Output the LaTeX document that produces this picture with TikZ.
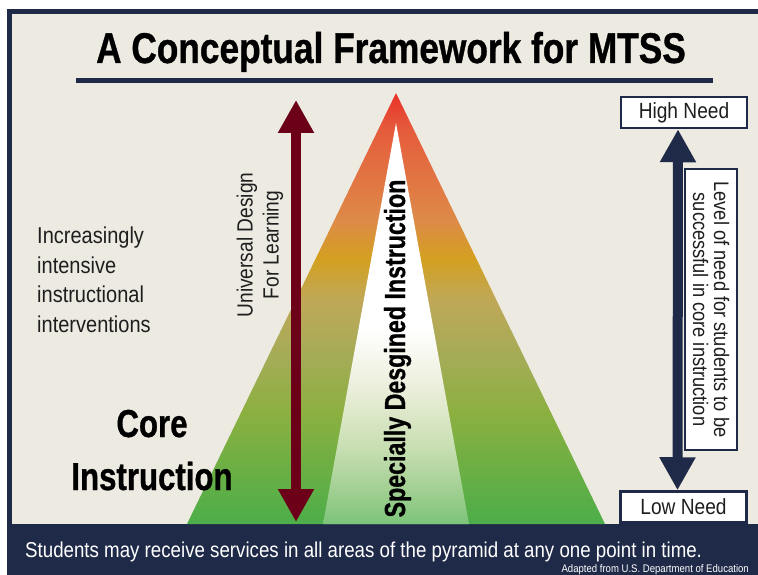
\documentclass[tikz,border=0pt]{standalone}
\usepackage{fontspec}
\usetikzlibrary{arrows.meta}

% narrow sans faces for the labels
\newfontfamily\condsans[FakeStretch=0.87]{Liberation Sans}
\newfontfamily\condbold[FakeStretch=0.8,FakeBold=0.8]{Liberation Sans}
\newfontfamily\titlebold[FakeStretch=0.82,FakeBold=0.8]{Liberation Sans}

\definecolor{navy}{HTML}{1F2A48}
\definecolor{paper}{HTML}{EDEAE2}
\definecolor{maroon}{HTML}{6C0019}
\definecolor{inktext}{HTML}{1E1E1E}

% pyramid colours, bottom (green) to apex (red)
\definecolor{pyA}{HTML}{4CAE4A}
\definecolor{pyB}{HTML}{6BAF44}
\definecolor{pyC}{HTML}{8CB040}
\definecolor{pyD}{HTML}{A3AC56}
\definecolor{pyE}{HTML}{BFA858}
\definecolor{pyF}{HTML}{D3A020}
\definecolor{pyG}{HTML}{DE8A48}
\definecolor{pyH}{HTML}{E55C3C}
\definecolor{pyI}{HTML}{E9322A}
\pgfdeclareverticalshading{pyramidshade}{100bp}{%
  color(0bp)=(pyA); color(25bp)=(pyA); color(31.4bp)=(pyB);
  color(38bp)=(pyC); color(44.1bp)=(pyD); color(51bp)=(pyE);
  color(55.7bp)=(pyF); color(60.3bp)=(pyG); color(70.7bp)=(pyH);
  color(75bp)=(pyI); color(100bp)=(pyI)}

% inner wedge: white fading into green towards the base
\definecolor{inA}{HTML}{7CC47B}
\definecolor{inB}{HTML}{A3D093}
\definecolor{inC}{HTML}{C9DFB3}
\definecolor{inD}{HTML}{EAEED9}
\pgfdeclareverticalshading{innershade}{100bp}{%
  color(0bp)=(inA); color(25bp)=(inA); color(29.4bp)=(inB);
  color(34.7bp)=(inC); color(41.8bp)=(inD); color(49.3bp)=(white);
  color(100bp)=(white)}

\begin{document}
\begin{tikzpicture}[x=1bp,y=-1bp,
  lighttext/.style={font=\condsans\fontsize{23bp}{29.5bp}\selectfont, text=inktext, inner sep=0pt},
  needbox/.style={draw=navy, line width=2.5bp, fill=white, minimum width=126bp,
    minimum height=31bp, inner sep=0pt, text=inktext,
    font=\condsans\fontsize{22bp}{26bp}\selectfont},
  bigarrow/.style={line width=10bp,
    {Triangle[width=34bp,length=33bp]}-{Triangle[width=34bp,length=33bp]}}
]
\useasboundingbox (0,0) rectangle (758,575);
\fill[white] (0,0) rectangle (758,575);

% frame and bottom band (open on the right)
\fill[navy] (7,9) rectangle (765,580);
\fill[paper] (12,14) rectangle (765,524);

% title with rule
\node[anchor=base, inner sep=0pt, text=black,
      font=\titlebold\bfseries\fontsize{43bp}{48bp}\selectfont]
  (title) at (391,63) {A Conceptual Framework for MTSS};
\fill[navy] (76,78) rectangle (713,83);

% pyramid and inner wedge
\path[shading=pyramidshade] (396,93) -- (605,524) -- (187,524) -- cycle;
\path[shading=innershade] (396,123) -- (469,524) -- (323,524) -- cycle;

\node[rotate=90, anchor=base, inner sep=0pt, text=black,
      font=\condbold\bfseries\fontsize{29bp}{31bp}\selectfont]
  (sdi) at (405,348.5) {Specially Desgined Instruction};

% universal design arrow
\coordinate (udlTop) at (296,100);
\coordinate (udlBot) at (296,522);
\draw[maroon, bigarrow] (udlTop) -- (udlBot);
\node[lighttext, rotate=90, align=center, font=\condsans\fontsize{22bp}{26bp}\selectfont]
  (udl) at (260,245) {Universal Design\\For Learning};

% left-hand labels (base anchor sits on the last line)
\node[lighttext, anchor=base west, align=left]
  (intensive) at (37,332) {Increasingly\\intensive\\instructional\\interventions};
\node[anchor=base, align=center, inner sep=0pt, text=black,
      font=\condbold\bfseries\fontsize{39bp}{53bp}\selectfont]
  (core) at (152,490) {Core\\Instruction};

% need scale on the right
\node[needbox] (high) at (684,112.5) {High Need};
\node[needbox] (low) at (683.5,507) {Low Need};
\draw[navy, bigarrow] ([xshift=-6bp]high.south) -- ([xshift=-6bp]low.north);
\node[rotate=-90, draw=navy, line width=1.2bp, fill=white, minimum width=281bp,
      minimum height=52bp, inner sep=0pt, align=center, text=inktext,
      font=\condsans\fontsize{21bp}{21bp}\selectfont]
  (level) at (711,309.5) {Level of need for students to be\\successful in core instruction};

% footer
\node[anchor=base west, inner sep=0pt, text=white,
      font=\condsans\fontsize{21.5bp}{24bp}\selectfont]
  (note) at (25,557) {Students may receive services in all areas of the pyramid at any one point in time.};
\node[anchor=base east, inner sep=0pt, text=white,
      font=\condsans\fontsize{11bp}{13bp}\selectfont]
  (source) at (749,572) {Adapted from U.S. Department of Education};
\end{tikzpicture}
\end{document}
